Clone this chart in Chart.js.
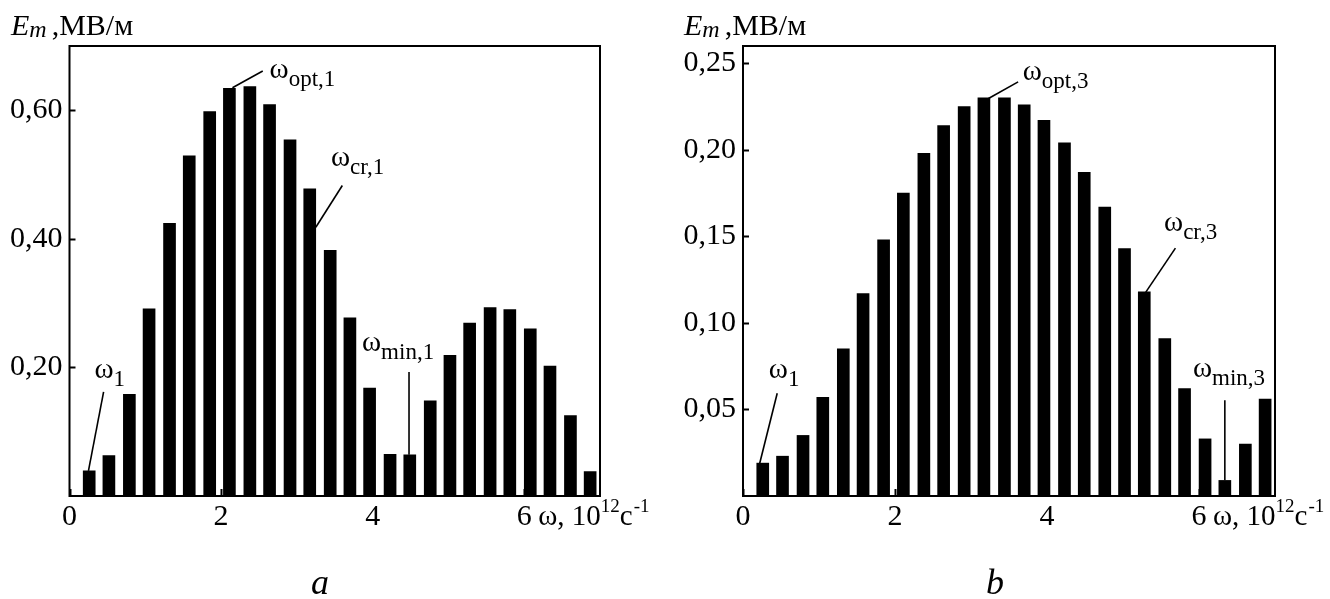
<!DOCTYPE html>
<html>
<head>
<meta charset="utf-8">
<script src="https://cdn.jsdelivr.net/npm/chart.js@4.4.1/dist/chart.umd.min.js"></script>
<style>
  html, body { margin: 0; padding: 0; background: #fff; }
  #wrap { position: relative; width: 1330px; height: 599px; }
  canvas { position: absolute; top: 0; }
</style>
</head>
<body>
<div id="wrap">
  <canvas id="chartA" width="665" height="599" style="left:0"></canvas>
  <canvas id="chartB" width="665" height="599" style="left:665px"></canvas>
</div>
<script>
// --- datos ---
const omega = [0.26, 0.52, 0.79, 1.05, 1.32, 1.58, 1.85, 2.11, 2.38, 2.64, 2.91, 3.17, 3.44,
               3.70, 3.96, 4.23, 4.49, 4.76, 5.02, 5.28, 5.55, 5.81, 6.08, 6.34, 6.61, 6.87];

const emA = [0.039, 0.063, 0.158, 0.291, 0.424, 0.529, 0.598, 0.634, 0.637, 0.609, 0.554, 0.478, 0.382,
             0.277, 0.168, 0.065, 0.064, 0.148, 0.219, 0.269, 0.293, 0.290, 0.260, 0.202, 0.125, 0.038];

const emB = [0.019, 0.023, 0.035, 0.057, 0.085, 0.117, 0.148, 0.175, 0.198, 0.214, 0.225, 0.230, 0.230,
             0.226, 0.217, 0.204, 0.187, 0.167, 0.143, 0.118, 0.091, 0.062, 0.033, 0.009, 0.030, 0.056];

const xTicks = [0, 2, 4, 6];
const yTicksA = [0.2, 0.4, 0.6];
const yTicksB = [0.05, 0.10, 0.15, 0.20, 0.25];

// anotaciones: texto (x, y) y línea guía (x1, y1) -> (x2, y2), en unidades de datos
const notesA = [
  { sub: 'opt,1', tx: 2.64, ty: 0.651, line: [2.55, 0.661, 2.15, 0.635] },
  { sub: 'cr,1',  tx: 3.45, ty: 0.514, line: [3.60, 0.483, 3.25, 0.418] },
  { sub: '1',     tx: 0.33, ty: 0.184, line: [0.45, 0.162, 0.25, 0.039] },
  { sub: 'min,1', tx: 3.86, ty: 0.226, line: [4.48, 0.193, 4.48, 0.064] }
];
const notesB = [
  { sub: 'opt,3', tx: 3.68, ty: 0.2405, line: [3.62, 0.2393, 3.23, 0.2297] },
  { sub: 'cr,3',  tx: 5.54, ty: 0.1530, line: [5.69, 0.1432, 5.30, 0.1178] },
  { sub: '1',     tx: 0.34, ty: 0.0680, line: [0.45, 0.0594, 0.22, 0.0189] },
  { sub: 'min,3', tx: 5.92, ty: 0.0686, line: [6.34, 0.0553, 6.34, 0.0091] }
];

const SERIF = '"Liberation Serif", "Times New Roman", serif';

// --- dibujo del marco, marcas y textos ---
const framePlugin = {
  id: 'frame',
  beforeDatasetsDraw(chart, args, opts) {
    const { ctx, chartArea: a, scales: { x, y } } = chart;
    ctx.save();
    ctx.strokeStyle = '#000';
    ctx.lineWidth = 2;
    // marcas hacia adentro
    opts.yTicks.forEach(v => {
      const py = Math.round(y.getPixelForValue(v)) + 0.5;
      ctx.beginPath(); ctx.moveTo(a.left, py); ctx.lineTo(a.left + 6, py); ctx.stroke();
    });
    opts.xTicks.forEach(v => {
      const px = Math.round(x.getPixelForValue(v)) + 0.5;
      ctx.beginPath(); ctx.moveTo(px, a.bottom); ctx.lineTo(px, a.bottom - 7); ctx.stroke();
    });
    ctx.restore();
  },
  afterDraw(chart, args, opts) {
    const { ctx, chartArea: a, scales: { x, y } } = chart;
    ctx.save();
    ctx.strokeStyle = '#000';
    ctx.fillStyle = '#000';
    ctx.lineWidth = 2;
    ctx.strokeRect(a.left, a.top, a.right - a.left, a.bottom - a.top);

    // anotaciones ω
    ctx.lineWidth = 1.6;
    opts.notes.forEach(n => {
      const [x1, y1, x2, y2] = n.line;
      ctx.beginPath();
      ctx.moveTo(x.getPixelForValue(x1), y.getPixelForValue(y1));
      ctx.lineTo(x.getPixelForValue(x2), y.getPixelForValue(y2));
      ctx.stroke();
      const px = x.getPixelForValue(n.tx), py = y.getPixelForValue(n.ty);
      ctx.textBaseline = 'alphabetic';
      ctx.textAlign = 'left';
      ctx.font = '29px ' + SERIF;
      ctx.fillText('ω', px, py);
      const w = ctx.measureText('ω').width;
      ctx.font = '23px ' + SERIF;
      ctx.fillText(n.sub, px + w, py + 8);
    });

    // título del eje Y
    ctx.textAlign = 'left';
    ctx.textBaseline = 'alphabetic';
    let tx = opts.titleX;
    ctx.font = 'italic 30px ' + SERIF;
    ctx.fillText('E', tx, 35);
    tx += ctx.measureText('E').width;
    ctx.font = 'italic 24px ' + SERIF;
    ctx.fillText('m', tx, 37);
    tx += ctx.measureText('m').width + 5;
    ctx.font = '30px ' + SERIF;
    ctx.fillText(',МВ/м', tx, 35);

    // título del eje X
    let ax = x.getPixelForValue(6) + 14;
    const base = 525;
    ctx.font = '29px ' + SERIF;
    ctx.fillText('ω, 10', ax, base);
    ax += ctx.measureText('ω, 10').width;
    ctx.font = '19px ' + SERIF;
    ctx.fillText('12', ax, base - 13);
    ax += ctx.measureText('12').width;
    ctx.font = '29px ' + SERIF;
    ctx.fillText('c', ax, base);
    ax += ctx.measureText('c').width;
    ctx.font = '19px ' + SERIF;
    ctx.fillText('-1', ax + 1, base - 13);

    // letra del panel
    ctx.textAlign = 'center';
    ctx.font = 'italic 36px ' + SERIF;
    ctx.fillText(opts.letter, opts.letterX, 594);
    ctx.restore();
  }
};

function commaLabel(v) {
  return v.toFixed(2).replace('.', ',');
}

function makePanel(id, ys, yMax, yTicks, notes, letter, letterX, titleX, yWidth, rightPad) {
  const ctx = document.getElementById(id).getContext('2d');
  return new Chart(ctx, {
    type: 'bar',
    data: {
      datasets: [{
        data: omega.map((w, i) => ({ x: w, y: ys[i] })),
        backgroundColor: '#000',
        borderWidth: 0,
        barThickness: 12
      }]
    },
    options: {
      responsive: false,
      animation: false,
      devicePixelRatio: 1,
      layout: { padding: { left: 0, top: 46, right: rightPad, bottom: 0 } },
      plugins: {
        legend: { display: false },
        tooltip: { enabled: false },
        frame: { notes, letter, letterX, titleX, xTicks, yTicks }
      },
      scales: {
        x: {
          type: 'linear',
          min: 0,
          max: 7,
          offset: false,
          grid: { display: false, drawTicks: false },
          border: { display: false },
          afterBuildTicks: s => { s.ticks = xTicks.map(v => ({ value: v })); },
          afterFit: s => { s.height = 103; },
          ticks: {
            color: '#000',
            padding: 3,
            maxRotation: 0,
            font: { family: SERIF, size: 30 },
            callback: v => String(v)
          }
        },
        y: {
          min: 0,
          max: yMax,
          grid: { display: false, drawTicks: false },
          border: { display: false },
          afterBuildTicks: s => { s.ticks = yTicks.map(v => ({ value: v })); },
          afterFit: s => { s.width = yWidth; },
          ticks: {
            color: '#000',
            padding: 7,
            font: { family: SERIF, size: 30 },
            callback: v => commaLabel(v)
          }
        }
      }
    },
    plugins: [framePlugin]
  });
}

makePanel('chartA', emA, 0.70, yTicksA, notesA, 'a', 320, 11, 69.5, 65);
makePanel('chartB', emB, 0.26, yTicksB, notesB, 'b', 330, 19, 78, 55);
</script>
</body>
</html>
